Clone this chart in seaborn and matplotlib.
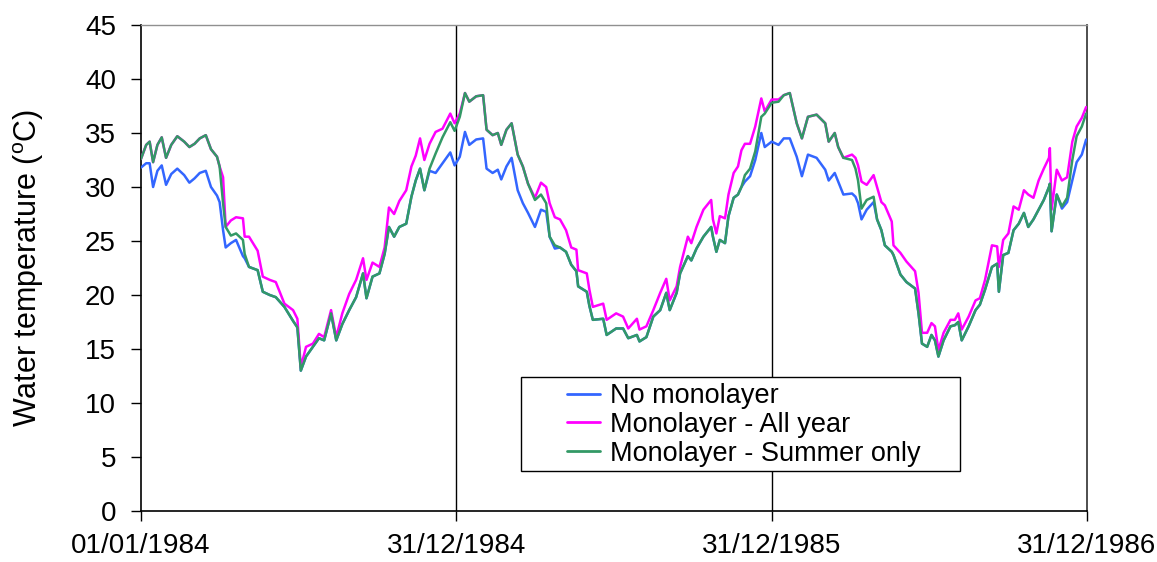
import pandas as pd
import matplotlib
matplotlib.use('Agg')
import matplotlib.pyplot as plt
import matplotlib.dates as mdates
from matplotlib.patches import Rectangle
import seaborn as sns

# ------------------------------------------------------------------
# Data (day offsets from 01/01/1984, deg C)
# ------------------------------------------------------------------
days = [
    0, 6, 10, 14, 19, 24, 29, 35, 42, 50, 56, 62, 68, 75, 81, 88, 91, 95, 98, 104,
    110, 118, 120, 125, 135, 141, 149, 156, 166, 176, 181, 185, 191, 199, 206, 212, 220, 226, 233, 241,
    249, 257, 261, 268, 276, 282, 287, 293, 299, 307, 313, 318, 323, 328, 334, 341, 349, 358, 363,
    369, 375, 380, 388, 396, 400, 407, 413, 417, 423, 429, 436, 442, 448, 456, 463, 469, 473, 479, 485,
    492, 498, 504, 506, 516, 519, 523, 535, 539, 550, 558, 564, 574, 577, 585, 593, 601, 608, 612, 620,
    624, 633, 637, 643, 651, 660, 662, 666, 670, 676, 680, 686, 691, 695, 699, 705, 711, 718, 722, 730,
    738, 744, 751, 759, 765, 772, 782, 792, 796, 803, 807, 813, 823, 827, 830, 834, 840, 848, 852, 857,
    861, 869, 871, 879, 886, 896, 900, 904, 910, 915, 919, 923, 929, 937, 942, 946, 950, 958, 966, 971,
    977, 985, 991, 993, 998, 1004, 1010, 1016, 1022, 1027, 1033, 1039, 1045, 1051, 1052, 1054, 1060, 1066,
    1072, 1078, 1083, 1089, 1094,
]

no_monolayer = [
    31.8, 32.2, 32.2, 30.0, 31.5, 32.0, 30.2, 31.2, 31.7, 31.1, 30.4, 30.8, 31.3, 31.5, 30.0, 29.2, 28.6, 26.0, 24.4, 24.8,
    25.1, 23.6, 23.4, 22.6, 22.3, 20.3, 20.0, 19.8, 18.9, 17.6, 17.0, 13.0, 14.3, 15.2, 16.0, 15.8, 18.3, 15.8, 17.3, 18.6,
    19.8, 22.0, 19.7, 21.7, 22.0, 23.8, 26.3, 25.4, 26.3, 26.6, 29.1, 30.6, 31.7, 29.7, 31.5, 31.3, 32.2, 33.2, 32.0,
    32.8, 35.1, 33.9, 34.4, 34.5, 31.7, 31.3, 31.6, 30.7, 31.9, 32.7, 29.7, 28.5, 27.6, 26.3, 27.9, 27.7, 25.4, 24.3, 24.4,
    24.0, 22.8, 22.2, 20.8, 20.3, 19.0, 17.7, 17.8, 16.3, 16.9, 16.9, 16.0, 16.3, 15.7, 16.1, 18.0, 18.6, 20.2, 18.6, 20.2,
    22.0, 23.6, 23.2, 24.3, 25.4, 26.3, 25.4, 24.0, 25.1, 24.8, 27.3, 29.0, 29.3, 30.0, 30.5, 31.0, 32.5, 35.0, 33.7, 34.2,
    33.9, 34.5, 34.5, 32.8, 31.0, 33.0, 32.7, 31.6, 30.6, 31.3, 30.5, 29.3, 29.4, 29.1, 28.5, 27.0, 27.9, 28.6, 27.0, 26.0,
    24.6, 24.0, 23.7, 21.9, 21.2, 20.6, 18.3, 15.5, 15.2, 16.3, 15.8, 14.3, 15.8, 17.1, 17.2, 17.5, 15.8, 17.1, 18.6, 19.1,
    20.5, 22.6, 22.9, 20.3, 23.7, 23.9, 26.0, 26.6, 27.6, 26.3, 27.0, 27.9, 28.8, 30.0, 30.3, 25.9, 29.3, 28.0,
    28.6, 30.6, 32.3, 33.0, 34.4,
]

all_year = [
    32.6, 33.9, 34.2, 32.3, 33.9, 34.6, 32.7, 33.9, 34.7, 34.2, 33.7, 34.0, 34.5, 34.8, 33.5, 32.8, 31.9, 30.9, 26.3, 26.9,
    27.2, 27.1, 25.4, 25.4, 24.1, 21.7, 21.4, 21.2, 19.2, 18.6, 17.8, 13.3, 15.2, 15.5, 16.4, 16.1, 18.6, 16.1, 18.3, 20.1,
    21.4, 23.4, 21.4, 23.0, 22.6, 24.4, 28.1, 27.5, 28.7, 29.7, 31.9, 32.9, 34.5, 32.5, 34.0, 35.1, 35.4, 36.8, 35.9,
    36.8, 38.7, 37.9, 38.4, 38.5, 35.3, 34.8, 35.0, 33.9, 35.3, 35.9, 33.0, 31.9, 30.3, 29.0, 30.4, 30.0, 28.5, 27.2, 27.0,
    26.0, 24.4, 24.2, 22.3, 22.0, 20.5, 18.9, 19.2, 17.7, 18.3, 18.0, 16.9, 17.8, 16.8, 17.1, 18.6, 20.2, 21.5, 19.5, 20.8,
    22.6, 25.4, 24.8, 26.3, 27.9, 28.8, 27.0, 25.7, 27.3, 27.1, 29.3, 31.3, 31.9, 33.4, 34.0, 34.0, 35.6, 38.2, 37.0, 38.1,
    38.1, 38.5, 38.7, 35.9, 34.5, 36.5, 36.7, 35.9, 34.2, 35.0, 33.7, 32.7, 33.0, 32.7, 32.0, 30.5, 30.2, 31.1, 30.0, 28.6,
    28.3, 26.8, 24.6, 23.9, 23.1, 22.2, 20.2, 16.5, 16.5, 17.4, 17.1, 14.9, 16.5, 17.7, 17.7, 18.3, 16.8, 18.0, 19.5, 19.7,
    21.4, 24.6, 24.5, 22.6, 25.1, 25.7, 28.2, 27.9, 29.7, 29.3, 29.0, 30.6, 31.7, 32.7, 33.6, 27.9, 31.6, 30.6,
    30.9, 34.2, 35.6, 36.4, 37.4,
]

summer_only = [
    32.6, 33.9, 34.2, 32.3, 33.9, 34.6, 32.7, 33.9, 34.7, 34.2, 33.7, 34.0, 34.5, 34.8, 33.5, 32.8, 31.9, 28.5, 26.3, 25.5,
    25.7, 25.1, 23.8, 22.6, 22.3, 20.3, 20.0, 19.8, 18.9, 17.6, 17.0, 13.0, 14.3, 15.2, 16.0, 15.8, 18.3, 15.8, 17.3, 18.6,
    19.8, 22.0, 19.7, 21.7, 22.0, 23.8, 26.3, 25.4, 26.3, 26.6, 29.1, 30.6, 31.7, 29.7, 31.7, 33.1, 34.6, 36.0, 35.2,
    36.5, 38.7, 37.9, 38.4, 38.5, 35.3, 34.8, 35.0, 33.9, 35.3, 35.9, 33.0, 31.9, 30.3, 28.8, 29.3, 28.5, 25.4, 24.6, 24.4,
    24.0, 22.8, 22.2, 20.8, 20.3, 19.0, 17.7, 17.8, 16.3, 16.9, 16.9, 16.0, 16.3, 15.7, 16.1, 18.0, 18.6, 20.2, 18.6, 20.2,
    22.0, 23.6, 23.2, 24.3, 25.4, 26.3, 25.4, 24.0, 25.1, 24.8, 27.3, 29.0, 29.3, 30.0, 31.1, 31.7, 33.3, 36.5, 36.8, 37.8,
    37.9, 38.5, 38.7, 35.9, 34.5, 36.5, 36.7, 35.9, 34.2, 35.0, 33.7, 32.7, 32.5, 31.7, 30.6, 28.0, 28.8, 29.1, 27.0, 26.0,
    24.6, 24.0, 23.7, 21.9, 21.2, 20.6, 18.3, 15.5, 15.2, 16.3, 15.8, 14.3, 15.8, 17.1, 17.2, 17.5, 15.8, 17.1, 18.6, 19.1,
    20.5, 22.6, 22.9, 20.3, 23.7, 23.9, 26.0, 26.6, 27.6, 26.3, 27.0, 27.9, 28.8, 30.0, 30.3, 25.9, 29.3, 28.2,
    29.0, 32.5, 34.7, 35.6, 36.8,
]

scenarios = ['No monolayer', 'Monolayer - All year', 'Monolayer - Summer only']
colors = ['#3366FF', '#FF00FF', '#339966']

start = pd.Timestamp('1984-01-01')
tick_days = [0, 365, 730, 1095]
year_marks = [365, 730]

# ------------------------------------------------------------------
# Long-form table for seaborn
# ------------------------------------------------------------------
dates = start + pd.to_timedelta(days, unit='D')
frames = []
for name, vals in zip(scenarios, [no_monolayer, all_year, summer_only]):
    frames.append(pd.DataFrame({'date': dates, 'temp': vals, 'scenario': name}))
df = pd.concat(frames, ignore_index=True)

# ------------------------------------------------------------------
# Plot
# ------------------------------------------------------------------
sns.set_style('ticks')
plt.rcParams['font.family'] = ['Liberation Sans', 'DejaVu Sans']
plt.rcParams['mathtext.fontset'] = 'custom'
plt.rcParams['mathtext.rm'] = 'Liberation Sans'
plt.rcParams['mathtext.default'] = 'regular'
plt.rcParams['text.color'] = 'black'
plt.rcParams['axes.labelcolor'] = 'black'
plt.rcParams['xtick.color'] = 'black'
plt.rcParams['ytick.color'] = 'black'

fig = plt.figure(figsize=(11.57, 5.62), dpi=100)
ax = fig.add_axes([141 / 1157, 51 / 562, 946 / 1157, 486 / 562])

sns.lineplot(data=df, x='date', y='temp', hue='scenario', hue_order=scenarios,
             palette=colors, estimator=None, linewidth=1.8, ax=ax, zorder=3)

for d in year_marks:
    ax.axvline(start + pd.Timedelta(days=d), color='black', linewidth=1, zorder=1.5)

ax.set_xlim(start, start + pd.Timedelta(days=tick_days[-1]))
ax.set_ylim(0, 45)
ax.set_yticks(range(0, 46, 5))
xt = [start + pd.Timedelta(days=d) for d in tick_days]
ax.set_xticks(xt)
ax.set_xticklabels([t.strftime('%d/%m/%Y') for t in xt])

ax.set_xlabel('')
ax.set_ylabel('Water temperature ($^o$C)', fontsize=22, color='black')
ax.yaxis.set_label_coords(-0.10, 0.5)

ax.tick_params(axis='both', direction='out', length=7, width=1, labelsize=20,
               colors='black', labelcolor='black', bottom=True, left=True)
ax.tick_params(axis='x', pad=8.5)
ax.tick_params(axis='y', pad=11)

for side in ['left', 'bottom']:
    ax.spines[side].set_color('black')
    ax.spines[side].set_linewidth(1.2)
ax.spines['top'].set_color('#909090')
ax.spines['top'].set_linewidth(1)
ax.spines['right'].set_color('#404040')
ax.spines['right'].set_linewidth(1.3)

# legend: white box with black frame, entries inside
handles, labels = ax.get_legend_handles_labels()
ax.get_legend().remove()
ax.add_patch(Rectangle((0.402, 0.083), 0.464, 0.192, transform=ax.transAxes,
                       facecolor='white', edgecolor='black', linewidth=1, zorder=4))
leg = ax.legend(handles, labels, loc='upper left', bbox_to_anchor=(0.4503, 0.263),
                frameon=False, fontsize=19.5, handlelength=1.23, handletextpad=0.37,
                labelspacing=0.1, borderpad=0, borderaxespad=0)
leg.set_zorder(5)
for h in leg.get_lines():
    h.set_linewidth(2)
for t in leg.get_texts():
    t.set_color('black')

fig.savefig('out.png', dpi=100)
